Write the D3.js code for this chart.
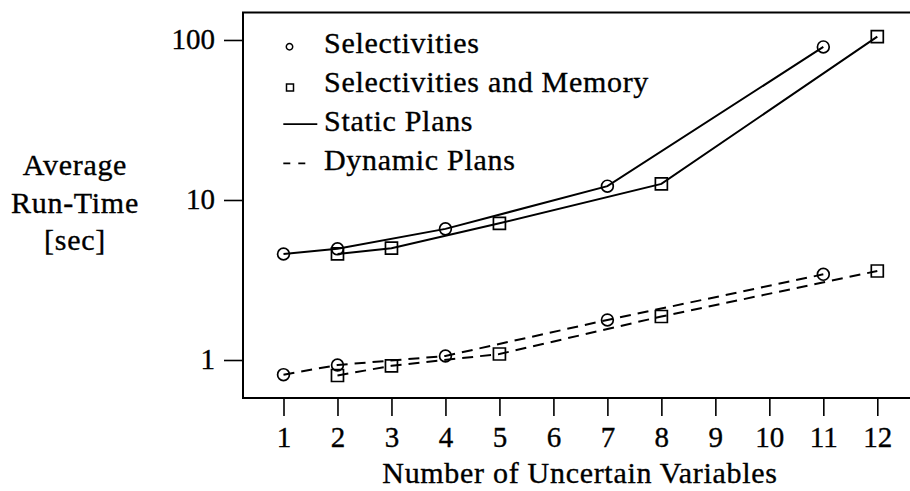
<!DOCTYPE html>
<html><head><meta charset="utf-8">
<script src="https://cdn.jsdelivr.net/npm/d3@7"></script>
<style>html,body{margin:0;padding:0;background:#fff;} svg{display:block;} text{stroke:#000;stroke-width:0.35px;}</style>
</head><body><svg id="chart" width="910" height="491"></svg>
<script>
// ---- data ----
const xTicks = [1,2,3,4,5,6,7,8,9,10,11,12];
const yTicks = [1,10,100];
const selX = [1,2,4,7,11];
const selStatic = [4.6,4.95,6.6,12.2,90.5];
const selDynamic = [0.81,0.93,1.06,1.78,3.43];
const memX = [2,3,5,8,12];
const memStatic = [4.6,5.0,7.15,12.6,105];
const memDynamic = [0.8,0.92,1.09,1.87,3.6];
const legendLabels = ["Selectivities","Selectivities and Memory","Static Plans","Dynamic Plans"];
const xTitle = "Number of Uncertain Variables";
const yTitle = ["Average","Run-Time","[sec]"];

// ---- layout ----
const FONT = '"Liberation Serif","Times New Roman",Times,serif';
const plot = {left:243, top:12.5, right:915, bottom:398};
const svg = d3.select("#chart");
const x = d3.scaleLinear().domain([1,12]).range([283.5,877.3]);
const y = d3.scaleLog().domain([0.5788,148.5]).range([plot.bottom,plot.top]);

// frame (right side is cut off in the reference)
svg.append("path")
  .attr("d",`M${plot.right},${plot.top}H${plot.left}V${plot.bottom}H${plot.right}`)
  .attr("fill","none").attr("stroke","#000").attr("stroke-width",2);

// axes
const yAxis = svg.append("g").attr("transform",`translate(${plot.left},0)`)
  .call(d3.axisLeft(y).tickValues(yTicks).tickFormat(d3.format("d")).tickSize(19).tickPadding(9));
const xAxis = svg.append("g").attr("transform",`translate(0,${plot.bottom})`)
  .call(d3.axisBottom(x).tickValues(xTicks).tickFormat(d3.format("d")).tickSize(18).tickPadding(10.5));
[yAxis,xAxis].forEach(g=>{
  g.select(".domain").remove();
  g.selectAll(".tick line").attr("stroke","#000").attr("stroke-width",1.6);
  g.selectAll(".tick text").attr("fill","#000").style("font-family",FONT).style("font-size","29px");
});
yAxis.selectAll(".tick text").attr("dy","0.28em");

// series
const series = [
  {xs:selX, vs:selStatic, sym:d3.symbolCircle, dash:null},
  {xs:selX, vs:selDynamic, sym:d3.symbolCircle, dash:"11,7"},
  {xs:memX, vs:memStatic, sym:d3.symbolSquare, dash:null},
  {xs:memX, vs:memDynamic, sym:d3.symbolSquare, dash:"11,7"}
];
const line = d3.line().x(d=>x(d[0])).y(d=>y(d[1]));
series.forEach(s=>{
  const pts = s.xs.map((xv,i)=>[xv,s.vs[i]]);
  svg.append("path").attr("d",line(pts)).attr("fill","none")
    .attr("stroke","#000").attr("stroke-width",2)
    .attr("stroke-dasharray",s.dash);
  svg.append("g").selectAll("path").data(pts).join("path")
    .attr("transform",d=>`translate(${x(d[0])},${y(d[1])})`)
    .attr("d",d3.symbol().type(s.sym).size(s.sym===d3.symbolCircle?Math.PI*5.9*5.9:144))
    .attr("fill","none").attr("stroke","#000").attr("stroke-width",1.7);
});

// legend
const lg = svg.append("g");
const lgX = 324, lgY0 = 52.7, lgDy = 39.1;
legendLabels.forEach((lab,i)=>{
  const by = lgY0 + i*lgDy;
  lg.append("text").attr("x",lgX).attr("y",by).text(lab)
    .style("font-family",FONT).style("font-size","30px").style("letter-spacing","0.7px").attr("fill","#000");
  if(i===0){
    lg.append("path").attr("transform",`translate(289.5,${by-6})`)
      .attr("d",d3.symbol().type(d3.symbolCircle).size(Math.PI*3.2*3.2))
      .attr("fill","none").attr("stroke","#000").attr("stroke-width",1.5);
  } else if(i===1){
    lg.append("path").attr("transform",`translate(290,${by-4.4})`)
      .attr("d",d3.symbol().type(d3.symbolSquare).size(49))
      .attr("fill","none").attr("stroke","#000").attr("stroke-width",1.5);
  } else {
    lg.append("line").attr("x1",283.3).attr("x2",i===2?317.3:305.5)
      .attr("y1",by-6.7).attr("y2",by-6.7)
      .attr("stroke","#000").attr("stroke-width",1.7)
      .attr("stroke-dasharray",i===2?null:"7,8");
  }
});

// titles
svg.append("text").attr("x",580).attr("y",483).attr("text-anchor","middle").text(xTitle)
  .style("font-family",FONT).style("font-size","30px").style("letter-spacing","0.7px").attr("fill","#000");
svg.append("g").selectAll("text").data(yTitle).join("text")
  .attr("x",75).attr("y",(d,i)=>175+i*37.5).attr("text-anchor","middle").text(d=>d)
  .style("font-family",FONT).style("font-size","30px").style("letter-spacing","0.7px").attr("fill","#000");
</script></body></html>
